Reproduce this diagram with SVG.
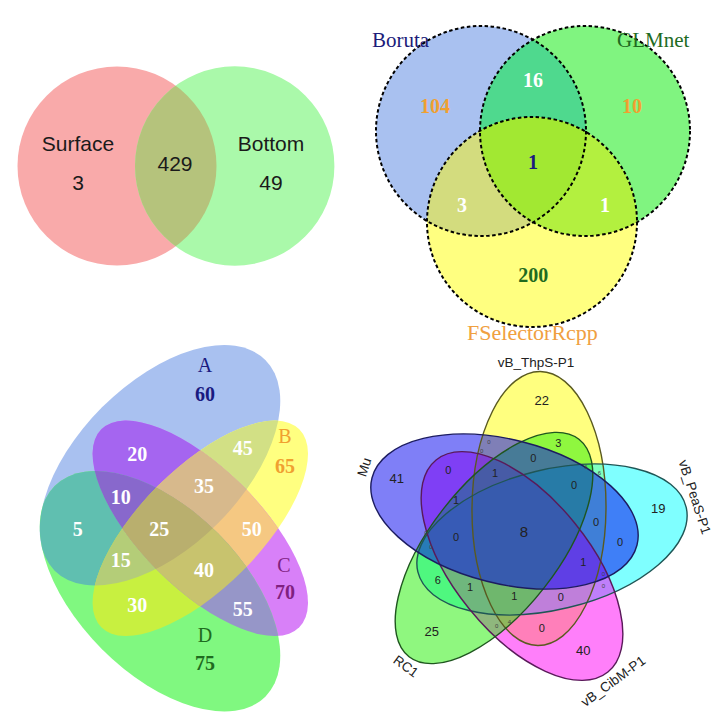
<svg xmlns="http://www.w3.org/2000/svg" width="717" height="720" viewBox="0 0 717 720">
<style>
.sans{font-family:"Liberation Sans",Arial,sans-serif;text-anchor:middle}
.serif{font-family:"Liberation Serif","Times New Roman",serif;text-anchor:middle}
.p1{font-size:21px;fill:#1a1a1a}
.n2{font-size:20px;font-weight:bold}
.n3{font-size:20px;font-weight:bold;fill:#ffffff}
.l3{font-size:20px}
.dash{fill:none;stroke:#000;stroke-width:2;stroke-dasharray:3.5 2.5}
.big{font-size:13px;fill:#222}
.mid{font-size:11px;fill:#222}
.tiny{font-size:6px;fill:#444}
.lab{font-size:13.5px;fill:#222}
.f5{fill-opacity:0.5;stroke:none}
.o5{fill:none;stroke-width:1.4}
</style>
<defs>
<clipPath id="c1L"><circle cx="117" cy="166" r="99.5"/></clipPath>
<clipPath id="c2B"><circle cx="481" cy="131" r="105"/></clipPath>
<clipPath id="c2G"><circle cx="585" cy="131" r="105"/></clipPath>
<clipPath id="c3A"><ellipse cx="0" cy="0" rx="149" ry="82" transform="translate(160,465.3) rotate(-45)"/></clipPath>
<clipPath id="c3B"><ellipse cx="0" cy="0" rx="140" ry="60" transform="translate(200.3,528.3) rotate(-45)"/></clipPath>
<clipPath id="c3C"><ellipse cx="0" cy="0" rx="140" ry="60" transform="translate(200.3,528.3) rotate(45)"/></clipPath>
<ellipse id="e3A" cx="0" cy="0" rx="149" ry="82" transform="translate(160,465.3) rotate(-45)"/>
<ellipse id="e3B" cx="0" cy="0" rx="140" ry="60" transform="translate(200.3,528.3) rotate(-45)"/>
<ellipse id="e3C" cx="0" cy="0" rx="140" ry="60" transform="translate(200.3,528.3) rotate(45)"/>
<ellipse id="e3D" cx="0" cy="0" rx="149" ry="82" transform="translate(160,591.3) rotate(45)"/>
<ellipse id="e5Y" cx="0" cy="0" rx="137" ry="67" transform="translate(539,508.5) rotate(-89.5)"/>
<ellipse id="e5C" cx="0" cy="0" rx="138" ry="70" transform="translate(552,539.5) rotate(-13.6)"/>
<ellipse id="e5M" cx="0" cy="0" rx="136.5" ry="68" transform="translate(522,566) rotate(51)"/>
<ellipse id="e5G" cx="0" cy="0" rx="138" ry="64" transform="translate(494,548) rotate(128)"/>
<ellipse id="e5B" cx="0" cy="0" rx="136.7" ry="72" transform="translate(504.5,511.5) rotate(14.2)"/>
</defs>

<!-- Panel 1 -->
<g id="p1-surface"><circle cx="117" cy="166" r="99.5" fill="#f9aaaa"/></g>
<g id="p1-bottom"><circle cx="234.7" cy="166" r="99.7" fill="#aaf9aa"/></g>
<g id="p1-overlap"><circle cx="234.7" cy="166" r="99.7" fill="#b5c37c" clip-path="url(#c1L)"/></g>
<g id="p1-text" class="sans p1">
<text x="78" y="151">Surface</text>
<text x="78" y="190">3</text>
<text x="175" y="171">429</text>
<text x="271" y="151">Bottom</text>
<text x="271" y="190">49</text>
</g>

<!-- Panel 2 -->
<g id="p2-boruta"><circle cx="481" cy="131" r="105" fill="#a9c1f0"/></g>
<g id="p2-glmnet"><circle cx="585" cy="131" r="105" fill="#80f480"/></g>
<g id="p2-fselector"><circle cx="532" cy="222" r="105" fill="#ffff80"/></g>
<g id="p2-regions">
<circle cx="585" cy="131" r="105" fill="#4fd98e" clip-path="url(#c2B)"/>
<circle cx="532" cy="222" r="105" fill="#d3dc7e" clip-path="url(#c2B)"/>
<circle cx="532" cy="222" r="105" fill="#b3f03f" clip-path="url(#c2G)"/>
<g clip-path="url(#c2B)"><circle cx="532" cy="222" r="105" fill="#a2e832" clip-path="url(#c2G)"/></g>
</g>
<g id="p2-outlines">
<circle class="dash" cx="481" cy="131" r="105"/>
<circle class="dash" cx="585" cy="131" r="105"/>
<circle class="dash" cx="532" cy="222" r="105"/>
</g>
<g id="p2-text" class="serif">
<text x="372" y="47" style="text-anchor:start;font-size:21px;fill:#1c1c7a">Boruta</text>
<text x="617" y="47" style="text-anchor:start;font-size:21px;fill:#1f6b1f">GLMnet</text>
<text class="n2" x="435" y="113.3" fill="#f0a030">104</text>
<text class="n2" x="533" y="87.3" fill="#ffffff">16</text>
<text class="n2" x="632" y="113.3" fill="#f0a030">10</text>
<text class="n2" x="533" y="169.3" fill="#1a1a80">1</text>
<text class="n2" x="462" y="212.3" fill="#ffffff">3</text>
<text class="n2" x="605" y="212.3" fill="#ffffff">1</text>
<text class="n2" x="533.3" y="281.7" fill="#1f6b1f">200</text>
<text x="532.5" y="340" style="font-size:22px;fill:#f0a040">FSelectorRcpp</text>
</g>

<!-- Panel 3 -->
<g id="p3-A"><use href="#e3A" fill="#a9c1f0"/></g>
<g id="p3-B"><use href="#e3B" fill="#ffff80"/></g>
<g id="p3-C"><use href="#e3C" fill="#d880f8"/></g>
<g id="p3-D"><use href="#e3D" fill="#80f880"/></g>
<g id="p3-regions">
<use href="#e3B" fill="#d2e085" clip-path="url(#c3A)"/>
<use href="#e3C" fill="#a565f0" clip-path="url(#c3A)"/>
<use href="#e3D" fill="#60bfb0" clip-path="url(#c3A)"/>
<use href="#e3C" fill="#f5c882" clip-path="url(#c3B)"/>
<use href="#e3D" fill="#c8f040" clip-path="url(#c3B)"/>
<use href="#e3D" fill="#9696c8" clip-path="url(#c3C)"/>
<g clip-path="url(#c3A)"><use href="#e3C" fill="#d7b98c" clip-path="url(#c3B)"/></g>
<g clip-path="url(#c3A)"><use href="#e3D" fill="#b4cd78" clip-path="url(#c3B)"/></g>
<g clip-path="url(#c3A)"><use href="#e3D" fill="#8868cc" clip-path="url(#c3C)"/></g>
<g clip-path="url(#c3B)"><use href="#e3D" fill="#c8c36e" clip-path="url(#c3C)"/></g>
<g clip-path="url(#c3A)"><g clip-path="url(#c3B)"><use href="#e3D" fill="#b9af6e" clip-path="url(#c3C)"/></g></g>
</g>
<g id="p3-text" class="serif">
<text class="l3" x="205" y="371.7" fill="#1a1a80">A</text>
<text class="n2" x="205" y="400.5" fill="#1a1a80">60</text>
<text class="l3" x="285" y="443" fill="#f0a030">B</text>
<text class="n2" x="285" y="472.7" fill="#f0a030">65</text>
<text class="l3" x="284" y="571.7" fill="#802080">C</text>
<text class="n2" x="285" y="599.3" fill="#802080">70</text>
<text class="l3" x="205" y="641.7" fill="#1f6b1f">D</text>
<text class="n2" x="205" y="670" fill="#1f6b1f">75</text>
<text class="n3" x="137.3" y="460.7">20</text>
<text class="n3" x="242.7" y="455">45</text>
<text class="n3" x="120.7" y="504.3">10</text>
<text class="n3" x="204" y="493.3">35</text>
<text class="n3" x="77.7" y="536">5</text>
<text class="n3" x="159.3" y="536">25</text>
<text class="n3" x="251.7" y="536">50</text>
<text class="n3" x="120.7" y="566.7">15</text>
<text class="n3" x="204" y="577.3">40</text>
<text class="n3" x="137.3" y="611.7">30</text>
<text class="n3" x="242.7" y="616">55</text>
</g>

<!-- Panel 4 -->
<g id="p4-fills">
<use href="#e5Y" class="f5" fill="#ffff00"/>
<use href="#e5C" class="f5" fill="#00ffff"/>
<use href="#e5M" class="f5" fill="#ff00f5"/>
<use href="#e5G" class="f5" fill="#20f000"/>
<use href="#e5B" class="f5" fill="#0000f0"/>
</g>
<g id="p4-ThpS"><use href="#e5Y" class="o5" stroke="#5a5a20"/></g>
<g id="p4-PeaS"><use href="#e5C" class="o5" stroke="#1f5656"/></g>
<g id="p4-CibM"><use href="#e5M" class="o5" stroke="#5a1a5a"/></g>
<g id="p4-RC1"><use href="#e5G" class="o5" stroke="#1f561f"/></g>
<g id="p4-Mu"><use href="#e5B" class="o5" stroke="#1c1c60"/></g>
<g id="p4-labels" class="sans lab">
<text x="536" y="367">vB_ThpS-P1</text>
<text transform="translate(364,467) rotate(-72)" y="4.8">Mu</text>
<text transform="translate(695,497) rotate(72)" y="4.8">vB_PeaS-P1</text>
<text transform="translate(613,681) rotate(-36)" y="4.8">vB_CibM-P1</text>
<text transform="translate(406,666) rotate(36)" y="4.8">RC1</text>
</g>
<g id="p4-numbers" class="sans">
<text class="big" x="541.7" y="404.7">22</text>
<text class="big" x="396.7" y="482.7">41</text>
<text class="big" x="658.3" y="513">19</text>
<text class="big" x="431.7" y="636.4">25</text>
<text class="big" x="583.3" y="654.7">40</text>
<text x="524" y="537.3" style="font-size:15px;fill:#222">8</text>
<text class="mid" x="558.3" y="446.7">3</text>
<text class="mid" x="448.3" y="474">0</text>
<text class="mid" x="495" y="477.2">1</text>
<text class="mid" x="533.3" y="462.2">0</text>
<text class="mid" x="574" y="489">0</text>
<text class="mid" x="456" y="504">1</text>
<text class="mid" x="456" y="540.6">0</text>
<text class="mid" x="596" y="525.6">0</text>
<text class="mid" x="620" y="545.6">0</text>
<text class="mid" x="583.3" y="565.6">1</text>
<text class="mid" x="437.7" y="584">6</text>
<text class="mid" x="470" y="590.6">1</text>
<text class="mid" x="514.3" y="600">1</text>
<text class="mid" x="560.7" y="600.6">0</text>
<text class="mid" x="541.7" y="632.2">0</text>
<text class="tiny" x="489" y="443.7">0</text>
<text class="tiny" x="481.7" y="452.7">0</text>
<text class="tiny" x="586" y="469.3">6</text>
<text class="tiny" x="599.3" y="474.7">6</text>
<text class="tiny" x="603.5" y="576">0</text>
<text class="tiny" x="603.5" y="587.7">0</text>
<text class="tiny" x="426" y="534.7">0</text>
<text class="tiny" x="431" y="548.7">0</text>
<text class="tiny" x="496.7" y="628">0</text>
<text class="tiny" x="509.3" y="623.7">4</text>
</g>
</svg>
